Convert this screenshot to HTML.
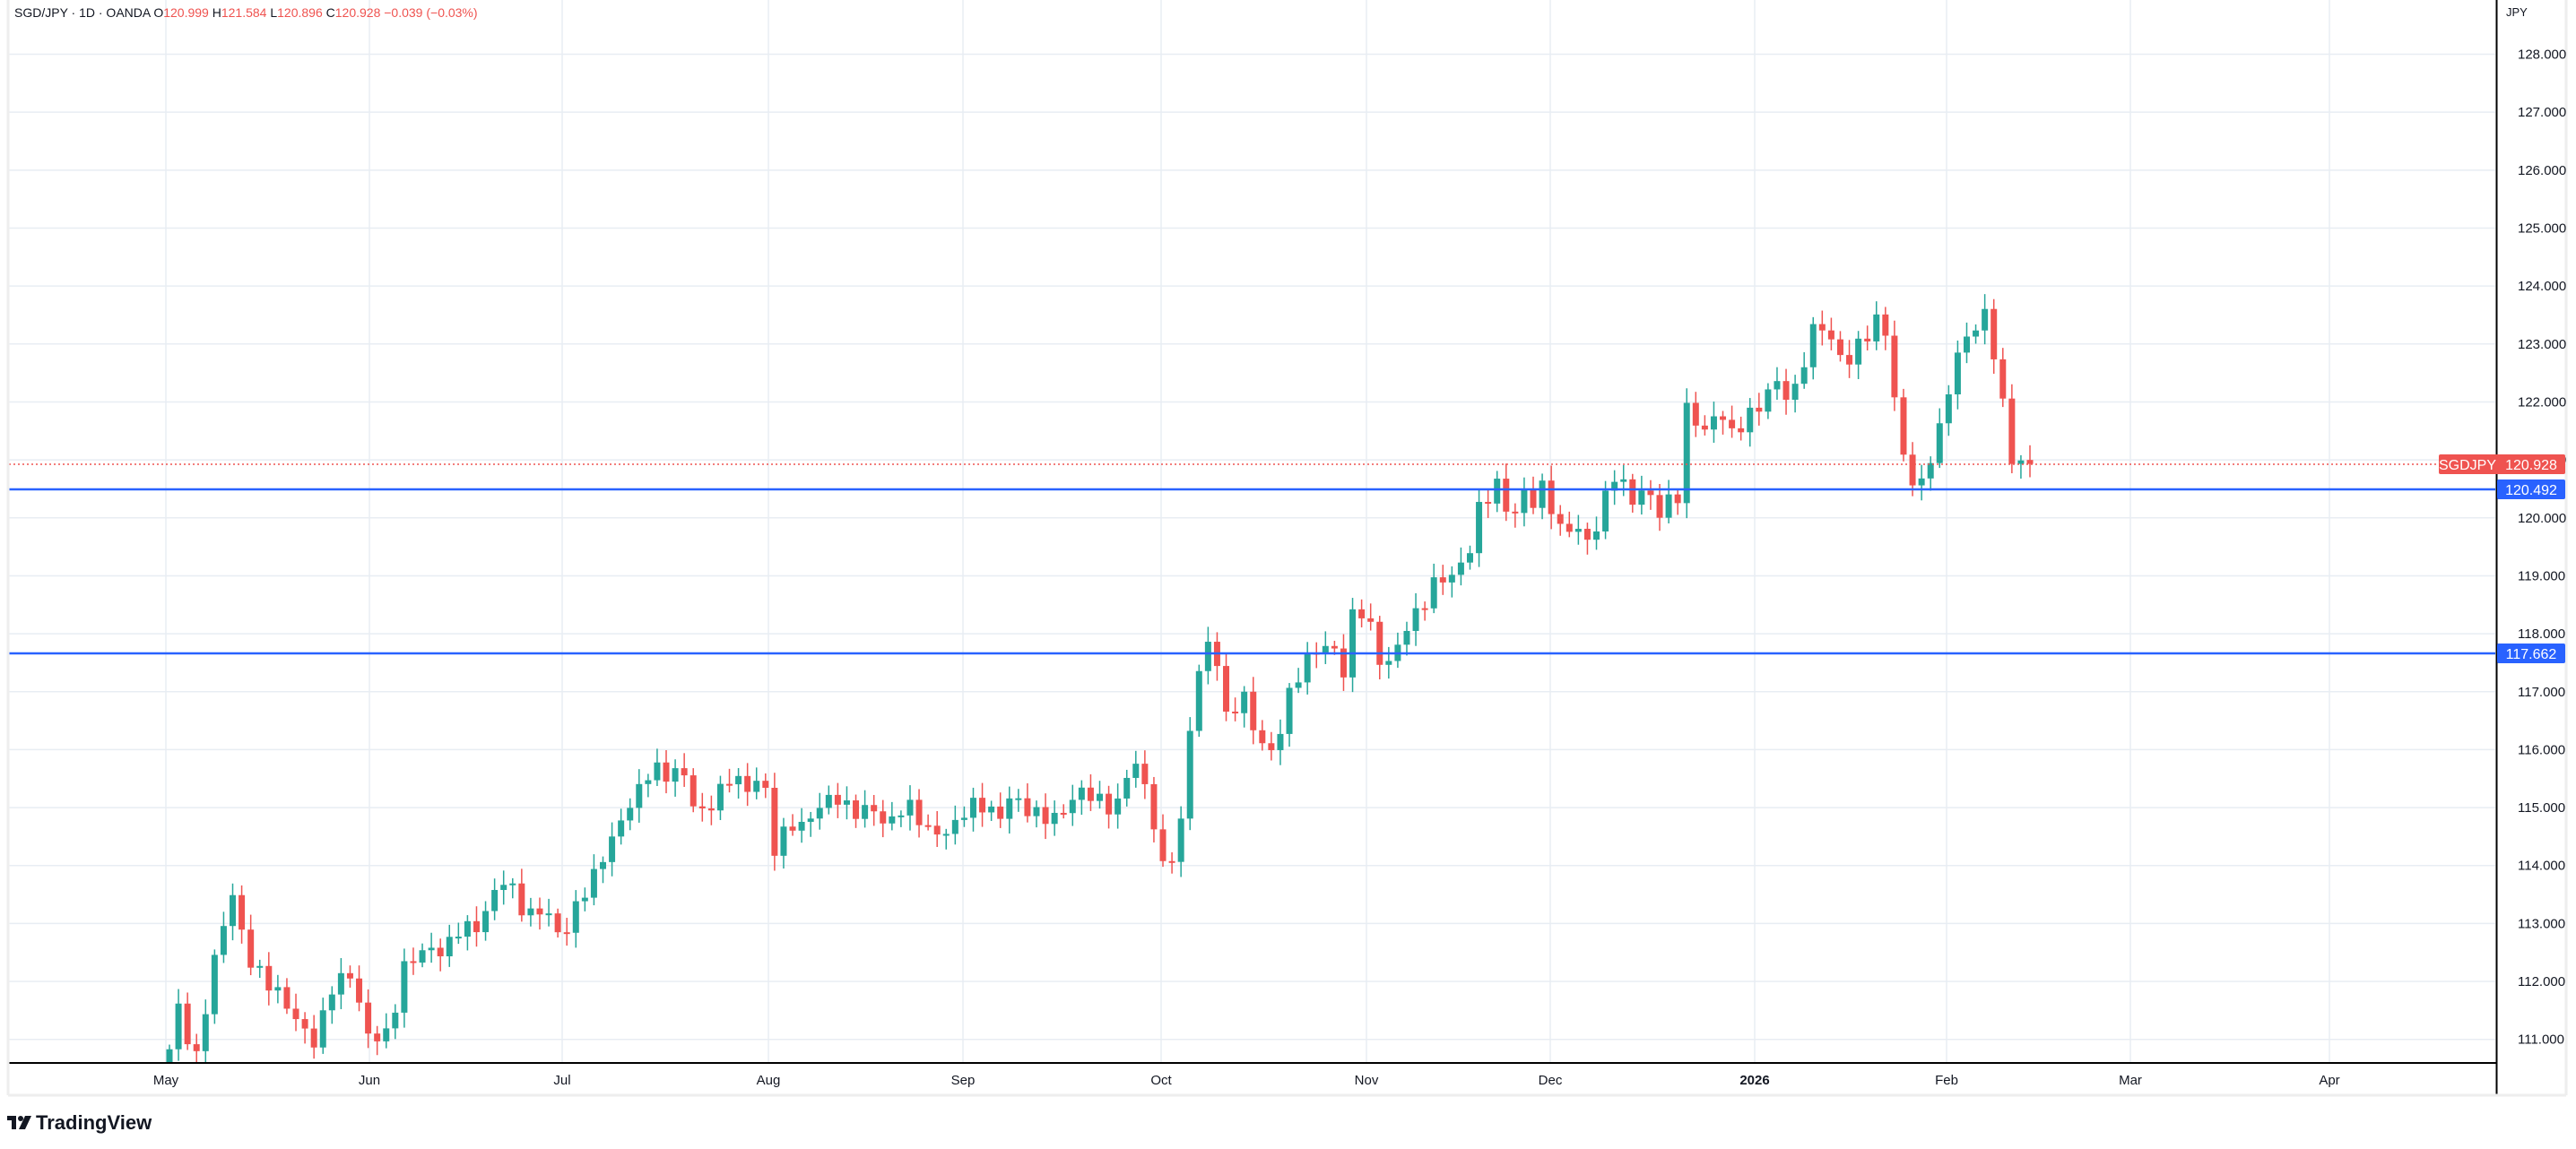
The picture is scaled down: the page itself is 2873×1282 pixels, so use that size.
<!DOCTYPE html>
<html><head><meta charset="utf-8"><style>
html,body{margin:0;padding:0;background:#fff;width:2873px;height:1282px;overflow:hidden;font-family:"Liberation Sans",sans-serif}
svg{position:absolute;left:0;top:0}
</style></head><body>
<svg id="s" width="2873" height="1282" xmlns="http://www.w3.org/2000/svg">
<rect x="0" y="0" width="2873" height="1282" fill="#fff"/>
<g id="grid"></g>
<g id="candles"></g>
<line x1="10" y1="518" x2="2783" y2="518" stroke="#ef5350" stroke-width="1.5" stroke-dasharray="2,3"/>
<line x1="10" y1="546" x2="2783" y2="546" stroke="#2962ff" stroke-width="2.5"/>
<line x1="10" y1="729" x2="2783" y2="729" stroke="#2962ff" stroke-width="2.5"/>
<line x1="2784.5" y1="0" x2="2784.5" y2="1222" stroke="#000" stroke-width="2"/>
<line x1="10" y1="1186" x2="2785" y2="1186" stroke="#000" stroke-width="2"/>
<line x1="9" y1="0" x2="9" y2="1222" stroke="#eeeeee" stroke-width="3"/>
<line x1="2862" y1="0" x2="2862" y2="1222" stroke="#eeeeee" stroke-width="3"/>
<line x1="9" y1="1222" x2="2862" y2="1222" stroke="#eeeeee" stroke-width="3"/>
<g id="labels" font-family="Liberation Sans, sans-serif" font-size="15" fill="#131722"></g>
<text x="16" y="19" font-size="14" fill="#131722">SGD/JPY · 1D · OANDA  O<tspan fill="#ef5350">120.999</tspan>  H<tspan fill="#ef5350">121.584</tspan>  L<tspan fill="#ef5350">120.896</tspan>  C<tspan fill="#ef5350">120.928</tspan>  <tspan fill="#ef5350">−0.039 (−0.03%)</tspan></text>
<text x="2795" y="18" font-size="13" fill="#131722">JPY</text>
<rect x="2720" y="507" width="141" height="22" rx="2" fill="#ef5350"/>
<text x="2752" y="524" font-size="16" fill="#fff" text-anchor="middle">SGDJPY</text>
<text x="2823" y="524" font-size="16" fill="#fff" text-anchor="middle">120.928</text>
<rect x="2785" y="535" width="76" height="22" rx="2" fill="#2962ff"/>
<text x="2823" y="552" font-size="16" fill="#fff" text-anchor="middle">120.492</text>
<rect x="2785" y="718" width="76" height="22" rx="2" fill="#2962ff"/>
<text x="2823" y="735" font-size="16" fill="#fff" text-anchor="middle">117.662</text>
<g transform="translate(8,1242)">
<rect x="0" y="3" width="10" height="5" fill="#131722"/><rect x="5" y="3" width="5" height="15" fill="#131722"/>
<circle cx="15" cy="6" r="3" fill="#131722"/><polygon points="20,3 27,3 20,18 13,18" fill="#131722"/>
<text x="32" y="18" font-size="22" font-weight="bold" fill="#131722">TradingView</text>
</g>
</svg>
<script>
const NS="http://www.w3.org/2000/svg";
function el(p,t,a,txt){const e=document.createElementNS(NS,t);for(const k in a)e.setAttribute(k,a[k]);if(txt!==undefined)e.textContent=txt;p.appendChild(e);return e;}
const Y=p=>60.5+(128-p)*64.66;
const grid=document.getElementById('grid'),lab=document.getElementById('labels');
for(let p=111;p<=128;p++){const y=Y(p);el(grid,'line',{x1:10,x2:2783,y1:y,y2:y,stroke:'#e8edf3','stroke-width':1.5});
 el(lab,'text',{x:2808,y:y+5},p.toFixed(3));}
const months=[["May",185],["Jun",412],["Jul",627],["Aug",857],["Sep",1074],["Oct",1295],["Nov",1524],["Dec",1729],["2026",1957],["Feb",2171],["Mar",2376],["Apr",2598]];
months.forEach(([m,x])=>{el(grid,'line',{x1:x,x2:x,y1:0,y2:1186,stroke:'#e8edf3','stroke-width':1.5});
 const t=el(lab,'text',{x:x,y:1210,'text-anchor':'middle'},m);if(m==="2026")t.setAttribute('font-weight','bold');});
const K=[[103,110.8],[108,111.7],[119,110.6],[130,112.2],[141,113.6],[152,112.4],[163,111.9],[175,111.6],[186,111.2],[192,110.9],[203,111.9],[214,112.2],[225,111.0],[236,111.0],[242,111.7],[247,112.4],[259,112.6],[270,112.4],[281,113.0],[292,113.0],[303,113.6],[309,113.7],[320,113.2],[331,113.3],[342,112.6],[353,113.5],[364,114.0],[375,114.5],[386,115.2],[397,115.8],[408,115.4],[414,115.7],[425,114.9],[436,115.2],[447,115.5],[458,115.2],[464,116.1],[469,114.2],[480,114.6],[491,114.7],[497,115.1],[508,115.2],[519,114.8],[530,115.1],[541,114.7],[552,115.0],[563,114.7],[574,114.6],[580,114.6],[591,115.0],[602,115.1],[608,114.8],[613,115.2],[624,114.9],[635,114.9],[646,114.9],[657,115.2],[668,115.2],[679,115.0],[690,115.8],[701,115.0],[707,114.0],[718,114.4],[723,116.0],[729,117.2],[735,117.8],[740,117.8],[746,116.6],[757,116.9],[763,116.3],[773,115.9],[779,116.4],[785,117.0],[796,117.5],[806,117.8],[812,117.8],[818,117.4],[824,118.4],[830,118.3],[835,118.0],[841,117.4],[846,117.6],[852,117.9],[857,118.2],[863,118.3],[868,118.5],[874,118.9],[885,119.1],[891,119.3],[896,119.5],[902,120.3],[908,120.3],[913,120.7],[919,120.0],[924,120.2],[930,120.6],[935,120.0],[941,120.7],[946,119.9],[952,119.8],[958,120.0],[963,119.7],[968,119.5],[974,119.9],[979,120.5],[985,120.9],[990,120.5],[996,120.3],[1001,120.5],[1007,120.2],[1012,119.9],[1018,120.5],[1023,120.4],[1027,122.0],[1030,121.9],[1036,121.4],[1041,121.5],[1047,121.9],[1052,121.4],[1058,121.6],[1063,121.8],[1069,121.9],[1074,121.9],[1080,122.4],[1085,122.1],[1091,122.1],[1096,122.6],[1101,123.0],[1107,123.5],[1112,123.0],[1118,122.9],[1124,122.6],[1129,123.0],[1135,123.2],[1140,123.2],[1146,123.6],[1151,122.4],[1157,121.3],[1162,120.8],[1168,120.5],[1174,121.0],[1179,121.2],[1185,122.0],[1190,122.6],[1196,123.2],[1201,123.2],[1207,123.7],[1212,123.1],[1218,122.1],[1224,121.0],[1229,120.97],[1236,120.93]].map(([x,p])=>[x*1.832,p]);
function interp(x){if(x<=K[0][0])return K[0][1];for(let i=1;i<K.length;i++){if(x<=K[i][0]){const a=K[i-1],b=K[i];return a[1]+(b[1]-a[1])*(x-a[0])/(b[0]-a[0]);}}return K[K.length-1][1];}
const c=document.getElementById('candles');
const x0=189,x1=2264,n=Math.round((x1-x0)/10.07);const dx=(x1-x0)/n;
let prev=110.5;
for(let i=0;i<=n;i++){const x=x0+i*dx;let cl=interp(x)+(i<n?0.12*Math.sin(i*2.7)+0.08*Math.sin(i*5.3):0);
 const o=i===n?120.999:prev;const up=cl>=o;const col=up?'#26a69a':'#ef5350';
 const hi=Math.max(o,cl)+0.08+0.18*Math.abs(Math.sin(i*1.9)),lo=Math.min(o,cl)-0.08-0.18*Math.abs(Math.cos(i*2.3));
 const yh=Y(hi),yl=Math.min(Y(lo),1185);
 if(yh<1185){el(c,'line',{x1:x,x2:x,y1:yh,y2:yl,stroke:col,'stroke-width':1.5});
 let yt=Y(Math.max(o,cl)),yb=Math.min(Y(Math.min(o,cl)),1185);if(yb-yt<2)yb=yt+2;
 el(c,'rect',{x:x-3.5,y:yt,width:7,height:yb-yt,fill:col});}
 prev=cl;}
</script>
</body></html>
